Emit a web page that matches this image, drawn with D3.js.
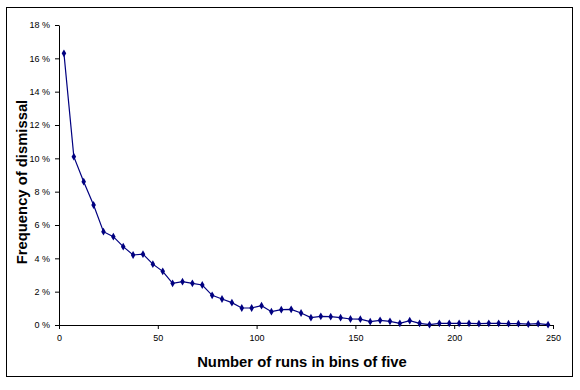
<!DOCTYPE html>
<html>
<head>
<meta charset="utf-8">
<script src="https://cdn.jsdelivr.net/npm/d3@7"></script>
<style>
  body { margin: 0; background: #fff; }
  svg { display: block; }
  .tick text { font-family: Arial, "Liberation Sans", sans-serif; font-size: 9px; fill: #000; }
  .title { font-family: Arial, "Liberation Sans", sans-serif; font-size: 14.8px; font-weight: bold; fill: #000; }
</style>
</head>
<body>
<svg width="580" height="390"></svg>
<script>
// bin midpoints (runs)
const runs = [2.5, 7.5, 12.5, 17.5, 22.5, 27.5, 32.5, 37.5, 42.5, 47.5,
  52.5, 57.5, 62.5, 67.5, 72.5, 77.5, 82.5, 87.5, 92.5, 97.5,
  102.5, 107.5, 112.5, 117.5, 122.5, 127.5, 132.5, 137.5, 142.5, 147.5,
  152.5, 157.5, 162.5, 167.5, 172.5, 177.5, 182.5, 187.5, 192.5, 197.5,
  202.5, 207.5, 212.5, 217.5, 222.5, 227.5, 232.5, 237.5, 242.5, 247.5];

// frequency of dismissal, %
const freq = [16.3, 10.1, 8.6, 7.2, 5.6, 5.3, 4.7, 4.2, 4.25, 3.65,
  3.22, 2.5, 2.6, 2.5, 2.4, 1.78, 1.56, 1.34, 1.02, 1.02,
  1.16, 0.8, 0.92, 0.94, 0.72, 0.44, 0.52, 0.5, 0.44, 0.36,
  0.35, 0.2, 0.28, 0.22, 0.1, 0.26, 0.1, 0.02, 0.1, 0.1,
  0.1, 0.1, 0.08, 0.1, 0.1, 0.08, 0.08, 0.05, 0.08, 0.02];

const xTicks = [0, 50, 100, 150, 200, 250];
const yTicks = [0, 2, 4, 6, 8, 10, 12, 14, 16, 18];

const svg = d3.select('svg'),
  margin = {top: 25, right: 27, bottom: 65, left: 59},
  width = +svg.attr('width') - margin.left - margin.right,
  height = +svg.attr('height') - margin.top - margin.bottom;

// outer chart frame
svg.append('rect')
  .attr('x', 6.5).attr('y', 7.5)
  .attr('width', 566).attr('height', 369)
  .attr('fill', 'none').attr('stroke', '#000').attr('stroke-width', 1);

const g = svg.append('g').attr('transform', 'translate(' + margin.left + ',' + margin.top + ')');

const x = d3.scaleLinear().domain([0, 250]).range([0, width]);
const y = d3.scaleLinear().domain([0, 18]).range([height, 0]);

g.append('g')
  .attr('transform', 'translate(0,' + height + ')')
  .call(d3.axisBottom(x).tickValues(xTicks).tickSize(4).tickSizeOuter(0).tickPadding(6))
  .call(a => a.select('.domain').attr('stroke', '#000'));

g.append('g')
  .call(d3.axisLeft(y).tickValues(yTicks).tickSize(4).tickSizeOuter(0).tickPadding(5)
    .tickFormat(d => d + ' %'))
  .call(a => a.select('.domain').attr('stroke', '#000'));

const data = runs.map((r, i) => ({run: r, value: freq[i]}));

const line = d3.line()
  .x(d => x(d.run))
  .y(d => y(d.value));

g.append('path')
  .datum(data)
  .attr('fill', 'none')
  .attr('stroke', '#000080')
  .attr('stroke-width', 1.2)
  .attr('d', line);

g.selectAll('.pt')
  .data(data)
  .enter().append('path')
  .attr('class', 'pt')
  .attr('transform', d => 'translate(' + x(d.run) + ',' + y(d.value) + ')')
  .attr('d', d3.symbol().type(d3.symbolDiamond).size(18))
  .attr('fill', '#000080');

svg.append('text')
  .attr('class', 'title')
  .attr('x', 302)
  .attr('y', 367)
  .attr('text-anchor', 'middle')
  .text('Number of runs in bins of five');

svg.append('text')
  .attr('class', 'title')
  .attr('transform', 'translate(27,182) rotate(-90)')
  .attr('text-anchor', 'middle')
  .text('Frequency of dismissal');
</script>
</body>
</html>
